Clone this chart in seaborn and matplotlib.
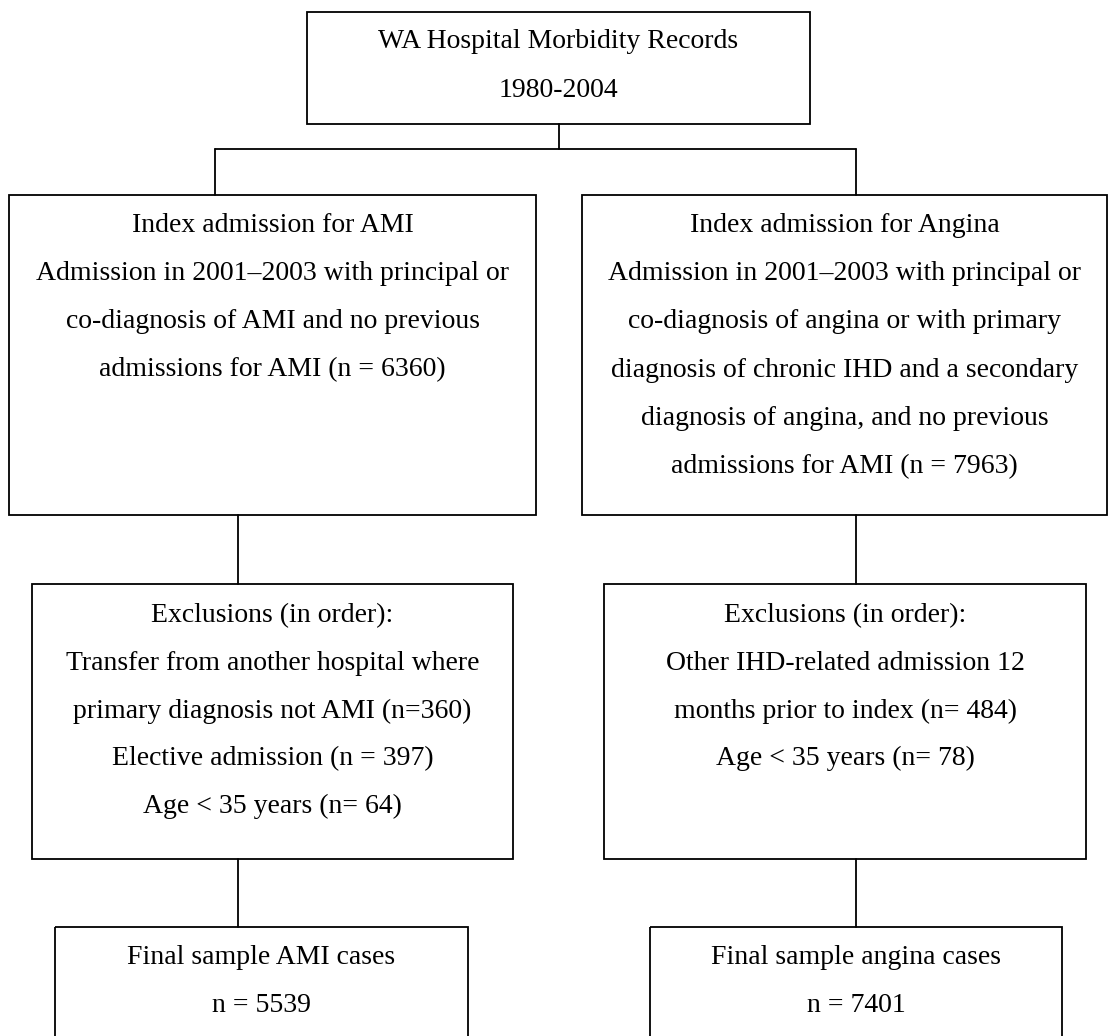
import matplotlib
matplotlib.use("Agg")
import matplotlib.pyplot as plt
from matplotlib.patches import Rectangle
import seaborn as sns
import pandas as pd

# ---- content ----
top_lines = ["WA Hospital Morbidity Records", "1980-2004"]
ami_index_lines = ["Index admission for AMI",
                   "Admission in 2001\u20132003 with principal or",
                   "co-diagnosis of AMI and no previous",
                   "admissions for AMI (n = 6360)"]
angina_index_lines = ["Index admission for Angina",
                      "Admission in 2001\u20132003 with principal or",
                      "co-diagnosis of angina or with primary",
                      "diagnosis of chronic IHD and a secondary",
                      "diagnosis of angina, and no previous",
                      "admissions for AMI (n = 7963)"]
ami_excl_lines = ["Exclusions (in order):",
                  "Transfer from another hospital where",
                  "primary diagnosis not AMI (n=360)",
                  "Elective admission (n = 397)",
                  "Age < 35 years (n= 64)"]
angina_excl_lines = ["Exclusions (in order):",
                     "Other IHD-related admission 12",
                     "months prior to index (n= 484)",
                     "Age < 35 years (n= 78)"]
ami_final_lines = ["Final sample AMI cases", "n = 5539"]
angina_final_lines = ["Final sample angina cases", "n = 7401"]

# ---- layout (pixel space, y downward) ----
W, H = 1108, 1036
boxes = {
    "top":        dict(x0=307, x1=810,  y0=12,  y1=124, base=48,  lines=top_lines, step=49),
    "ami_index":  dict(x0=9,   x1=536,  y0=195, y1=515, base=232, lines=ami_index_lines, step=48.2),
    "ang_index":  dict(x0=582, x1=1107, y0=195, y1=515, base=232, lines=angina_index_lines, step=48.2),
    "ami_excl":   dict(x0=32,  x1=513,  y0=584, y1=859, base=622, lines=ami_excl_lines, step=47.8),
    "ang_excl":   dict(x0=604, x1=1086, y0=584, y1=859, base=622, lines=angina_excl_lines, step=47.8),
    "ami_final":  dict(x0=55,  x1=468,  y0=927, y1=1045, base=964, lines=ami_final_lines, step=48),
    "ang_final":  dict(x0=650, x1=1062, y0=927, y1=1045, base=964, lines=angina_final_lines, step=48),
}
connectors = [
    ((559, 124), (559, 149)),
    ((215, 149), (856, 149)),
    ((215, 149), (215, 195)),
    ((856, 149), (856, 195)),
    ((238, 515), (238, 584)),
    ((856, 515), (856, 584)),
    ((238, 859), (238, 927)),
    ((856, 859), (856, 927)),
]

sns.set_theme(style="white")
plt.rcParams['font.family'] = ['Liberation Serif', 'DejaVu Serif']

fig = plt.figure(figsize=(W / 100, H / 100), dpi=100)
ax = fig.add_axes([0, 0, 1, 1])
ax.set_xlim(0, W)
ax.set_ylim(H, 0)
ax.axis("off")

LW = 1.3
for b in boxes.values():
    ax.add_patch(Rectangle((b["x0"], b["y0"]), b["x1"] - b["x0"], b["y1"] - b["y0"],
                           fill=False, edgecolor="black", linewidth=LW))
    cx = (b["x0"] + b["x1"]) / 2
    for i, t in enumerate(b["lines"]):
        ax.text(cx, b["base"] + i * b["step"], t, ha="center", va="baseline",
                fontsize=20, color="black")

rows = []
for k, (p, q) in enumerate(connectors):
    rows.append(dict(seg=k, order=0, x=p[0], y=p[1]))
    rows.append(dict(seg=k, order=1, x=q[0], y=q[1]))
df = pd.DataFrame(rows)
sns.lineplot(data=df, x="x", y="y", units="seg", estimator=None, sort=False,
             color="black", linewidth=LW, ax=ax, legend=False)
ax.set_xlim(0, W)
ax.set_ylim(H, 0)
ax.axis("off")

fig.savefig("out.png", dpi=100, facecolor="white")
